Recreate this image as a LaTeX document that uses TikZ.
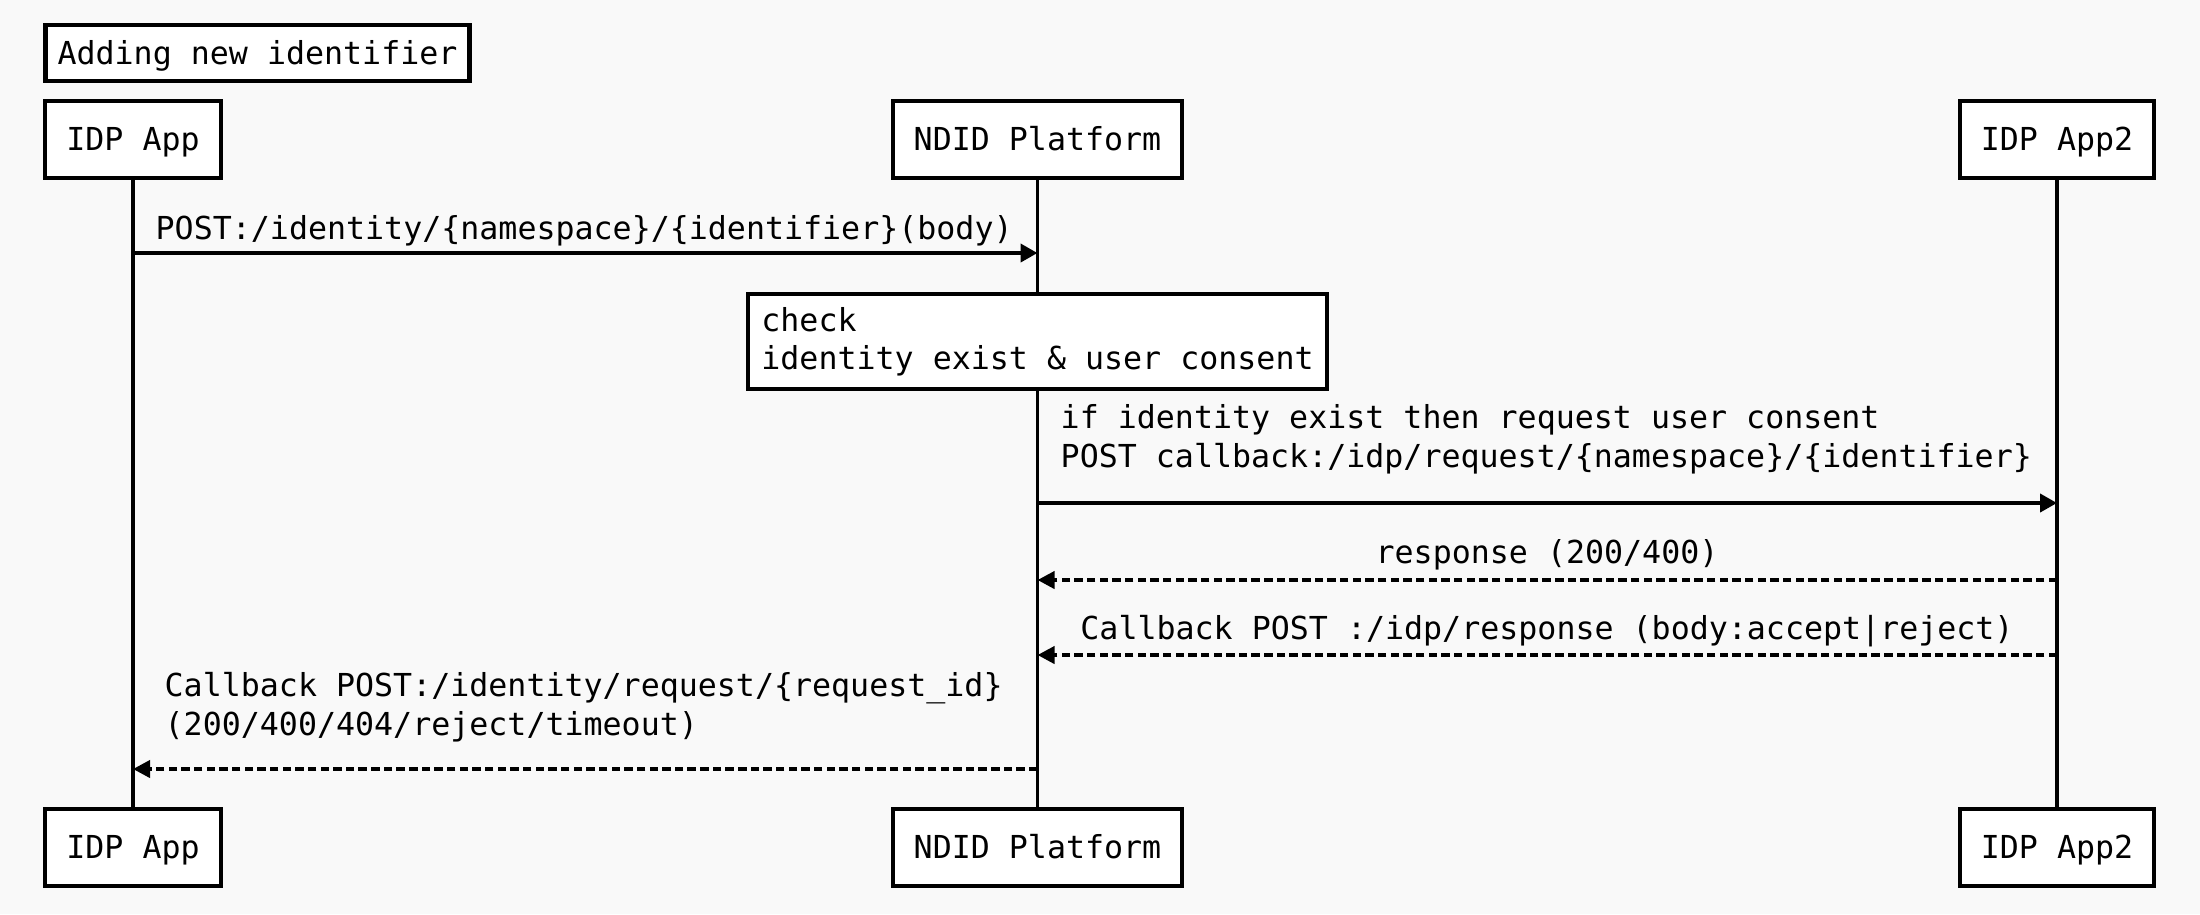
\documentclass[tikz,border=0pt]{standalone}
\usepackage{fontspec}
\setmonofont{DejaVu Sans Mono}
\usetikzlibrary{arrows.meta}
\begin{document}
\begin{tikzpicture}[
    caja/.style={draw, line width=1.2pt, fill=white, font=\ttfamily\fontsize{9}{10.9}\selectfont,
                 text height=6.5pt, text depth=0pt, minimum height=0.77cm, inner xsep=0.21cm},
    nota/.style={draw, line width=1.2pt, fill=white, font=\ttfamily\fontsize{9}{10.9}\selectfont,
                 align=left, inner xsep=0.13cm, minimum height=0.95cm},
    vida/.style={line width=1pt},
    texto/.style={font=\ttfamily\fontsize{9}{10.9}\selectfont, inner sep=0pt, align=left},
    llamada/.style={line width=1.1pt, -{Triangle[length=0.17cm,width=0.18cm]}},
    respuesta/.style={line width=1.1pt, dash pattern=on 2.4pt off 1.2pt, -{Triangle[length=0.17cm,width=0.17cm]}}
]
    % Fondo y margenes
    \fill[gray!5] (0,0) rectangle (22,-9.14);
    \useasboundingbox (0,0) rectangle (22,-9.14);
    % Titulo
    \node[caja, minimum height=0.56cm, inner xsep=0.12cm] (titulo) at (2.575,-0.53) {Adding new identifier};
    % Participantes arriba
    \node[caja] (idpArriba)  at (1.33,-1.395)   {IDP App};
    \node[caja] (ndidArriba) at (10.375,-1.395) {NDID Platform};
    \node[caja] (idp2Arriba) at (20.57,-1.395)  {IDP App2};
    % Participantes abajo
    \node[caja] (idpAbajo)  at (1.33,-8.475)   {IDP App};
    \node[caja] (ndidAbajo) at (10.375,-8.475) {NDID Platform};
    \node[caja] (idp2Abajo) at (20.57,-8.475)  {IDP App2};
    % Lineas de vida
    \draw[vida] (idpArriba.south)  -- (idpAbajo.north);
    \draw[vida] (ndidArriba.south) -- (ndidAbajo.north);
    \draw[vida] (idp2Arriba.south) -- (idp2Abajo.north);
    % Nota sobre NDID
    \node[nota] (chequeo) at (10.375,-3.415) {check\\identity exist \& user consent};
    % Puntos de los mensajes
    \coordinate (m1a) at (1.33,-2.53);   \coordinate (m1b) at (10.375,-2.53);
    \coordinate (m2a) at (10.375,-5.03); \coordinate (m2b) at (20.57,-5.03);
    \coordinate (m3a) at (20.57,-5.80);  \coordinate (m3b) at (10.375,-5.80);
    \coordinate (m4a) at (20.57,-6.55);  \coordinate (m4b) at (10.375,-6.55);
    \coordinate (m5a) at (10.375,-7.69); \coordinate (m5b) at (1.33,-7.69);
    % Flechas
    \draw[llamada]   (m1a) -- (m1b);
    \draw[llamada]   (m2a) -- (m2b);
    \draw[respuesta] (m3a) -- (m3b);
    \draw[respuesta] (m4a) -- (m4b);
    \draw[respuesta] (m5a) -- (m5b);
    % Textos de los mensajes
    \node[texto, anchor=base west] (t1) at (1.55,-2.39) {POST:/identity/\{namespace\}/\{identifier\}(body)};
    \node[texto, anchor=base west] (t2) at (10.60,-4.67)
        {if identity exist then request user consent\\POST callback:/idp/request/\{namespace\}/\{identifier\}};
    \node[texto, anchor=base] (t3) at (15.47,-5.63) {response (200/400)};
    \node[texto, anchor=base] (t4) at (15.47,-6.39) {Callback POST :/idp/response (body:accept|reject)};
    \node[texto, anchor=base west] (t5) at (1.64,-7.35)
        {Callback POST:/identity/request/\{request\_id\}\\(200/400/404/reject/timeout)};
\end{tikzpicture}
\end{document}
